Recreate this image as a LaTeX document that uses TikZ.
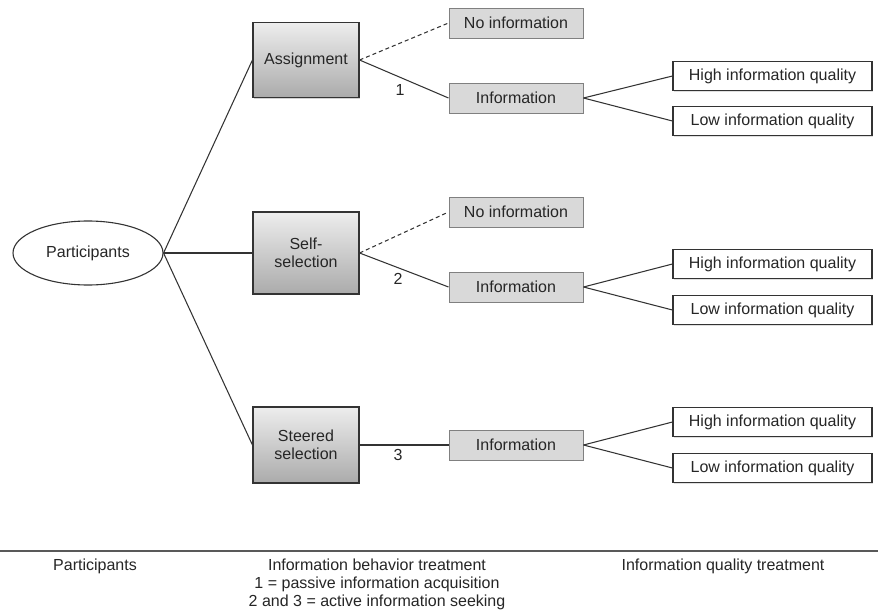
\documentclass[tikz,border=0pt]{standalone}
\usepackage{fontspec}
\setmainfont{Liberation Sans}
\usetikzlibrary{shapes.geometric,shadows}
\definecolor{edgecol}{HTML}{333333}
\definecolor{infofill}{HTML}{D9D9D9}
\definecolor{infoline}{HTML}{808080}
\begin{document}
\begin{tikzpicture}[x=1pt,y=-1pt,
  font=\fontsize{16}{18}\selectfont,
  every node/.style={text=black!85},
  conn/.style={draw=edgecol,line width=1.05pt},
  dashconn/.style={conn,dash pattern=on 4pt off 3pt},
  treatbox/.style={rectangle,draw=edgecol,line width=1.1pt,top color=black!7,bottom color=black!33,
    align=center,inner sep=0pt,minimum width=106pt,
    drop shadow={opacity=0.35,shadow xshift=1.2pt,shadow yshift=-1.2pt}},
  infobox/.style={rectangle,draw=infoline,line width=1pt,fill=infofill,inner sep=0pt,
    minimum width=134pt,minimum height=30pt,
    drop shadow={opacity=0.3,shadow xshift=1pt,shadow yshift=-1.2pt}},
  qualbox/.style={rectangle,draw=edgecol,line width=1.1pt,fill=white,inner sep=0pt,
    minimum width=199pt,minimum height=29pt,
    drop shadow={opacity=0.25,shadow xshift=1pt,shadow yshift=-1.2pt}},
  numlabel/.style={inner sep=0pt},
  bottomtext/.style={align=center,inner sep=0pt,font=\fontsize{16}{18}\selectfont}
]
\useasboundingbox (0,0) rectangle (878,613);
\fill[white] (0,0) rectangle (878,613);

% participants
\node[ellipse,draw=edgecol,line width=1.1pt,minimum width=150pt,minimum height=64pt,inner sep=0pt] (part) at (88,253) {Participants};

% treatment boxes
\node[treatbox,minimum height=75pt] (assign) at (306,60) {Assignment};
\node[treatbox,minimum height=82pt] (self) at (306,253) {Self-\\selection};
\node[treatbox,minimum height=76pt] (steer) at (306,445) {Steered\\selection};

% information boxes
\node[infobox] (noinfoA) at (516,23) {No information};
\node[infobox] (infoA) at (516,98) {Information};
\node[infobox] (noinfoB) at (516,212) {No information};
\node[infobox] (infoB) at (516,287) {Information};
\node[infobox] (infoC) at (516,445) {Information};

% quality boxes
\node[qualbox] (hiA) at (772.5,76) {High information quality};
\node[qualbox] (loA) at (772.5,121) {Low information quality};
\node[qualbox] (hiB) at (772.5,264) {High information quality};
\node[qualbox] (loB) at (772.5,310) {Low information quality};
\node[qualbox] (hiC) at (772.5,422) {High information quality};
\node[qualbox] (loC) at (772.5,468) {Low information quality};

% connectors
\draw[conn] (part.east) -- (assign.west);
\draw[conn] (part.east) -- (self.west);
\draw[conn] (part.east) -- (steer.west);

\draw[dashconn] (assign.east) -- (noinfoA.west);
\draw[conn] (assign.east) -- (infoA.west);
\draw[dashconn] (self.east) -- (noinfoB.west);
\draw[conn] (self.east) -- (infoB.west);
\draw[conn] (steer.east) -- (infoC.west);

\draw[conn] (infoA.east) -- (hiA.west);
\draw[conn] (infoA.east) -- (loA.west);
\draw[conn] (infoB.east) -- (hiB.west);
\draw[conn] (infoB.east) -- (loB.west);
\draw[conn] (infoC.east) -- (hiC.west);
\draw[conn] (infoC.east) -- (loC.west);

% numbers
\node[numlabel] (n1) at (400,90) {1};
\node[numlabel] (n2) at (398,279) {2};
\node[numlabel] (n3) at (398,455) {3};

% bottom rule and captions
\draw[line width=1.6pt,black!65] (0,551) -- (878,551);
\node[bottomtext,anchor=north] (capP) at (95,559) {Participants};
\node[bottomtext,anchor=north] (capB) at (377,559) {Information behavior treatment\\1 = passive information acquisition\\2 and 3 = active information seeking};
\node[bottomtext,anchor=north] (capQ) at (723,559) {Information quality treatment};
\end{tikzpicture}
\end{document}
